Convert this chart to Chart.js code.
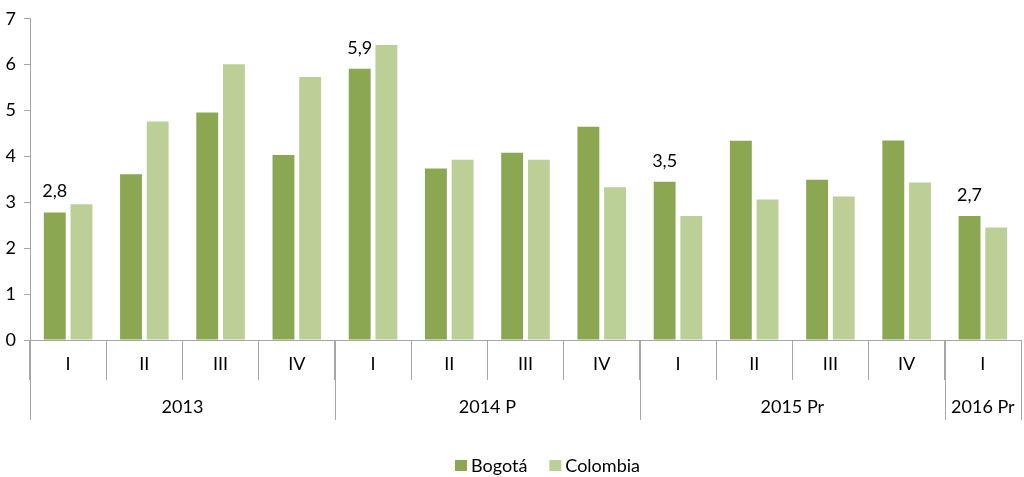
<!DOCTYPE html>
<html>
<head>
<meta charset="utf-8">
<script src="https://cdn.jsdelivr.net/npm/chart.js@4"></script>
<style>
  html, body { margin: 0; padding: 0; background: #fff; }
  #wrap { width: 1024px; height: 477px; }
</style>
</head>
<body>
<div id="wrap"><canvas id="chart"></canvas></div>
<script>
// quarters and the year groups they belong to
const quarters = ['I', 'II', 'III', 'IV', 'I', 'II', 'III', 'IV', 'I', 'II', 'III', 'IV', 'I'];
const yearLabels = ['2013', '2014 P', '2015 Pr', '2016 Pr'];
const yearStart = [0, 4, 8, 12];
const yearCount = [4, 4, 4, 1];

const seriesNames = ['Bogotá', 'Colombia'];
const bogota = [2.78, 3.61, 4.96, 4.03, 5.91, 3.74, 4.08, 4.65, 3.45, 4.34, 3.49, 4.35, 2.70];
const colombia = [2.96, 4.76, 6.01, 5.73, 6.43, 3.93, 3.93, 3.33, 2.70, 3.06, 3.13, 3.43, 2.45];
const colors = ['#8ba751', '#bbcf97'];

// bars that carry a value label
const labelIdx = [0, 4, 8, 12];

const FONT = 'Lato';
const AXIS = '#a6a6a6';

const yearPlugin = {
  id: 'years',
  afterDraw(chart) {
    const ctx = chart.ctx;
    const x = chart.scales.x;
    const step = x.getPixelForValue(1) - x.getPixelForValue(0);
    const top = chart.chartArea.bottom;
    ctx.save();
    ctx.strokeStyle = AXIS;
    ctx.lineWidth = 1;
    ctx.fillStyle = '#000';
    ctx.font = '18px ' + FONT;
    ctx.textAlign = 'center';
    ctx.textBaseline = 'middle';
    for (let g = 0; g < yearLabels.length; g++) {
      const left = x.getPixelForValue(yearStart[g]) - step / 2;
      const right = x.getPixelForValue(yearStart[g] + yearCount[g] - 1) + step / 2;
      const lines = [left];
      if (g == yearLabels.length - 1) lines.push(right);
      lines.forEach(p => {
        const px = Math.round(p) + 0.5;
        ctx.beginPath();
        ctx.moveTo(px, top);
        ctx.lineTo(px, top + 80);
        ctx.stroke();
      });
      ctx.fillText(yearLabels[g], (left + right) / 2, top + 67);
    }

    // value labels above some Bogota bars
    const meta = chart.getDatasetMeta(0);
    ctx.textBaseline = 'bottom';
    labelIdx.forEach(i => {
      const bar = meta.data[i];
      ctx.fillText(bogota[i].toFixed(1).replace('.', ','), bar.x, bar.y - 12);
    });

    // legend
    ctx.textAlign = 'left';
    ctx.textBaseline = 'middle';
    let lx = 455;
    const ly = 466;
    seriesNames.forEach((name, i) => {
      ctx.fillStyle = colors[i];
      ctx.fillRect(lx, ly - 6, 12, 11);
      ctx.fillStyle = '#000';
      ctx.fillText(name, lx + 16, ly);
      lx += 16 + ctx.measureText(name).width + 22;
    });
    ctx.restore();
  }
};

new Chart(document.getElementById('chart'), {
  type: 'bar',
  data: {
    labels: quarters,
    datasets: [{
      label: seriesNames[0],
      data: bogota,
      backgroundColor: colors[0]
    }, {
      label: seriesNames[1],
      data: colombia,
      backgroundColor: colors[1]
    }]
  },
  options: {
    responsive: true,
    maintainAspectRatio: false,
    animation: false,
    layout: { padding: { top: 11, right: 3, left: 0, bottom: 0 } },
    datasets: {
      bar: { categoryPercentage: 0.7, barPercentage: 0.82 }
    },
    plugins: {
      tooltip: { enabled: false },
      legend: { display: false }
    },
    scales: {
      x: {
        grid: {
          drawOnChartArea: false,
          drawTicks: true,
          tickLength: 40,
          color: AXIS
        },
        border: { color: AXIS },
        ticks: {
          color: '#000',
          font: { family: FONT, size: 18 },
          padding: -27,
          maxRotation: 0
        },
        afterFit(scale) { scale.height = 137; }
      },
      y: {
        min: 0,
        max: 7,
        ticks: {
          stepSize: 1,
          color: '#000',
          font: { family: FONT, size: 18 },
          padding: 8
        },
        grid: {
          drawOnChartArea: false,
          tickLength: 6,
          color: AXIS
        },
        border: { color: AXIS },
        afterFit(scale) { scale.width = 30; }
      }
    }
  },
  plugins: [yearPlugin]
});
</script>
</body>
</html>
